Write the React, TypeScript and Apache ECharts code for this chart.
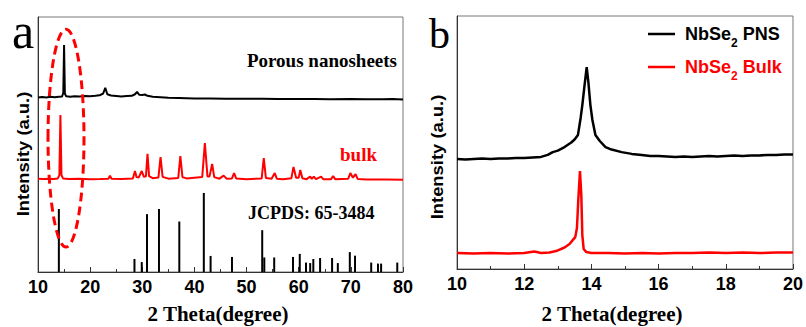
import React, { useEffect, useRef } from 'react';
import * as echarts from 'echarts';

// ---------- Panel a ----------
const xTicksA = [10, 20, 30, 40, 50, 60, 70, 80];

// JCPDS 65-3484 reference sticks
const stickPos = [14.0, 28.5, 29.9, 30.9, 33.2, 37.1, 41.8, 43.1, 47.2, 53.0, 53.4, 55.3, 58.9, 60.2, 61.4, 62.2, 62.8, 64.1, 66.4, 67.5, 69.8, 70.8, 73.9, 75.2, 75.8, 78.9];
const stickHeight = [24.7, 5.1, 3.9, 22.7, 24.7, 19.8, 31.0, 6.3, 5.9, 16.4, 5.7, 5.7, 5.9, 7.1, 3.7, 3.5, 5.1, 5.5, 5.5, 3.5, 7.8, 6.4, 3.7, 3.3, 3.3, 3.7];

// Porous nanosheets pattern (offset)
const porousA: [number, number][] = [
  [10, 68.4], [10.8, 68.6], [11.6, 68.4], [12.4, 68.7], [13.2, 68.5], [14.0, 68.7], [14.6, 68.8], [14.85, 70.2],
  [15.0, 89.0], [15.15, 70.0], [15.4, 68.9], [16.2, 68.7], [17.0, 68.9], [18.0, 68.8], [19.0, 69.0], [20.0, 68.9],
  [21.0, 69.1], [21.8, 69.3], [22.5, 70.0], [22.9, 72.2], [23.3, 69.7], [24.0, 69.2], [25.0, 69.0], [26.0, 68.8],
  [27.0, 69.0], [28.0, 69.1], [28.6, 69.7], [29.0, 70.6], [29.4, 69.5], [30.0, 69.4], [30.5, 69.6], [31.0, 69.1],
  [32.0, 68.7], [33.5, 68.5], [35.0, 68.3], [37.0, 68.2], [40.0, 68.0], [43.0, 68.0], [46.0, 67.9], [50.0, 67.9],
  [53.0, 67.9], [56.0, 67.8], [60.0, 67.8], [63.0, 67.8], [66.0, 67.7], [70.0, 67.8], [73.0, 67.7], [76.0, 67.7],
  [78.0, 67.8], [80.0, 67.6],
];

// Bulk pattern (offset)
const bulkA: [number, number][] = [
  [10, 36.6], [11, 36.5], [12, 36.6], [13, 36.5], [13.8, 36.7], [14.1, 38.0], [14.3, 61.6], [14.5, 38.0], [14.8, 36.7],
  [16, 36.5], [18, 36.6], [20, 36.4], [22, 36.5], [23.5, 36.6], [23.8, 37.8], [24.1, 36.6], [26, 36.5], [28.2, 36.7],
  [28.6, 39.6], [28.9, 37.2], [29.3, 37.0], [29.9, 39.6], [30.3, 37.3], [30.7, 37.5], [31.0, 46.3], [31.3, 37.6],
  [32, 36.8], [33.1, 37.1], [33.5, 45.1], [33.9, 37.3], [35, 36.6], [36.9, 36.9], [37.3, 45.5], [37.7, 37.2],
  [38.5, 36.7], [39.5, 36.9], [41.5, 37.3], [42.0, 50.6], [42.5, 37.5], [42.9, 37.5], [43.4, 42.4], [43.8, 37.2],
  [44.8, 36.6], [45.6, 37.8], [46.2, 36.6], [47.2, 36.7], [47.6, 38.8], [48.0, 36.7], [50, 36.4], [52.9, 36.7],
  [53.3, 44.7], [53.7, 36.9], [54.8, 36.6], [55.4, 38.8], [55.8, 36.6], [57, 36.4], [58.6, 36.8], [59.0, 41.2],
  [59.5, 37.0], [60.0, 37.0], [60.3, 40.0], [60.7, 36.8], [61.5, 36.4], [62.2, 37.4], [62.5, 36.5], [62.9, 37.4],
  [63.3, 36.4], [64.3, 37.4], [64.7, 36.4], [66.2, 36.4], [66.6, 37.6], [67.0, 36.4], [69.5, 36.6], [69.9, 38.8],
  [70.4, 37.0], [70.9, 38.4], [71.3, 36.5], [73, 36.3], [75, 36.3], [77, 36.3], [80, 36.2],
];

// ---------- Panel b ----------
const pnsB: [number, number][] = [
  [10.0, 43.5], [10.25, 43.3], [10.5, 43.5], [10.75, 43.7], [11.0, 43.5], [11.25, 43.7], [11.5, 43.7], [11.75, 43.9],
  [12.0, 43.9], [12.25, 44.1], [12.5, 44.3], [12.7, 45.1], [12.85, 46.2], [13.0, 46.8], [13.2, 48.2], [13.4, 50.0],
  [13.5, 51.2], [13.6, 53.0], [13.68, 59.7], [13.73, 64.8], [13.8, 73.1], [13.86, 79.8], [13.91, 73.9], [13.97, 64.8],
  [14.03, 58.9], [14.12, 53.0], [14.25, 50.6], [14.42, 48.2], [14.6, 47.2], [14.9, 46.2], [15.2, 45.5], [15.5, 45.1],
  [15.75, 44.7], [16.0, 44.7], [16.25, 44.5], [16.5, 44.3], [16.75, 44.5], [17.0, 44.3], [17.25, 44.5], [17.5, 44.7],
  [17.75, 44.5], [18.0, 44.7], [18.25, 44.9], [18.5, 44.7], [18.75, 44.9], [19.0, 44.9], [19.25, 45.1], [19.5, 45.1],
  [19.75, 45.3], [20.0, 45.3],
];

const bulkB: [number, number][] = [
  [10.0, 6.3], [10.5, 6.1], [11.0, 6.3], [11.5, 6.1], [12.0, 6.3], [12.3, 6.9], [12.5, 6.3], [12.75, 6.5],
  [12.95, 7.1], [13.2, 8.5], [13.35, 9.9], [13.45, 11.5], [13.52, 12.6], [13.57, 16.2], [13.61, 27.3], [13.66, 38.7],
  [13.70, 29.2], [13.73, 13.4], [13.77, 7.9], [13.85, 6.7], [14.0, 6.3], [14.5, 6.3], [15.0, 6.1], [15.5, 6.3],
  [16.0, 6.1], [16.5, 6.3], [17.0, 6.3], [17.5, 6.5], [18.0, 6.3], [18.5, 6.5], [19.0, 6.3], [19.5, 6.5], [20.0, 6.5],
];

const SANS = 'Liberation Sans';
const SERIF = 'Liberation Serif';
const RED = '#ff0000';
const AXIS = '#333';

function xAxisCfg(gridIndex: number, min: number, max: number, interval: number) {
  return {
    gridIndex, type: 'value', min, max, interval,
    axisLine: { show: true, lineStyle: { color: AXIS, width: 1 } },
    axisTick: { show: true, inside: true, length: 5, lineStyle: { color: AXIS } },
    minorTick: { show: true, splitNumber: 2, length: 3, lineStyle: { color: AXIS } },
    axisLabel: { color: '#000', fontSize: 18, fontWeight: 'bold', fontFamily: SANS, margin: 6, showMinLabel: true, showMaxLabel: true },
    splitLine: { show: false },
    minorSplitLine: { show: false },
  };
}
function yAxisCfg(gridIndex: number) {
  return {
    gridIndex, type: 'value', min: 0, max: 100,
    axisLine: { show: true, lineStyle: { color: AXIS, width: 1 } },
    axisTick: { show: false }, axisLabel: { show: false }, splitLine: { show: false },
  };
}

export default function App() {
  const ref = useRef<HTMLDivElement>(null);
  useEffect(() => {
    document.body.style.margin = '0';
    const chart = echarts.init(ref.current!, null, { renderer: 'svg' });
    const option: any = {
      animation: false,
      grid: [
        { left: 38, top: 17, width: 365, height: 255, show: true, borderColor: '#777', borderWidth: 1 },
        { left: 457, top: 16, width: 339, height: 253, show: true, borderColor: '#777', borderWidth: 1 },
      ],
      xAxis: [xAxisCfg(0, xTicksA[0], xTicksA[xTicksA.length - 1], 10), xAxisCfg(1, 10, 20, 2)],
      yAxis: [yAxisCfg(0), yAxisCfg(1)],
      series: [
        {
          type: 'custom', name: 'JCPDS', xAxisIndex: 0, yAxisIndex: 0,
          data: stickPos.map((p, i) => [p, stickHeight[i]]),
          renderItem: (params: any, api: any) => {
            const x = api.value(0); const h = api.value(1);
            const p0 = api.coord([x, 0]); const p1 = api.coord([x, h]);
            return { type: 'line', shape: { x1: p0[0], y1: p0[1], x2: p1[0], y2: p1[1] }, style: { stroke: '#000', lineWidth: 2 } };
          },
        },
        { type: 'line', name: 'Porous', xAxisIndex: 0, yAxisIndex: 0, data: porousA, showSymbol: false, symbol: 'none', lineStyle: { color: '#000', width: 2 } },
        { type: 'line', name: 'BulkA', xAxisIndex: 0, yAxisIndex: 0, data: bulkA, showSymbol: false, symbol: 'none', lineStyle: { color: RED, width: 2 } },
        { type: 'line', name: 'NbSe2 PNS', xAxisIndex: 1, yAxisIndex: 1, data: pnsB, showSymbol: false, symbol: 'none', lineStyle: { color: '#000', width: 2.5 } },
        { type: 'line', name: 'NbSe2 Bulk', xAxisIndex: 1, yAxisIndex: 1, data: bulkB, showSymbol: false, symbol: 'none', lineStyle: { color: RED, width: 2.5 } },
      ],
    };
    chart.setOption(option);

    const c = chart.convertToPixel({ gridIndex: 0 }, [15.37, 52.5]) as number[];
    const e = chart.convertToPixel({ gridIndex: 0 }, [15.37 + 3.45, 52.5 + 42.7]) as number[];
    const rx = Math.abs(e[0] - c[0]); const ry = Math.abs(c[1] - e[1]);

    const legendText = (label: string, color: string) => ({
      text: `{m|NbSe}{s|2}{m| ${label}}`,
      rich: {
        m: { fontSize: 18, fontWeight: 'bold', fontFamily: SANS, fill: color, lineHeight: 30 },
        s: { fontSize: 12, fontWeight: 'bold', fontFamily: SANS, fill: color, lineHeight: 12, verticalAlign: 'bottom' },
      },
    });

    const graphic: any[] = [
      { type: 'ellipse', z: 100, shape: { cx: c[0], cy: c[1], rx, ry }, style: { fill: 'none', stroke: RED, lineWidth: 3, lineDash: [9, 5] } },
      { type: 'text', z: 100, x: 12, y: 31, style: { text: 'a', fontSize: 50, fontFamily: SERIF, fill: '#000', verticalAlign: 'middle' } },
      { type: 'text', z: 100, x: 429, y: 34, style: { text: 'b', fontSize: 42, fontFamily: SERIF, fill: '#000', verticalAlign: 'middle' } },
      { type: 'text', z: 100, x: 397, y: 60, style: { text: 'Porous nanosheets', fontSize: 19, fontWeight: 'bold', fontFamily: SERIF, fill: '#000', align: 'right', verticalAlign: 'middle' } },
      { type: 'text', z: 100, x: 377, y: 154, style: { text: 'bulk', fontSize: 19, fontWeight: 'bold', fontFamily: SERIF, fill: RED, align: 'right', verticalAlign: 'middle' } },
      { type: 'text', z: 100, x: 248, y: 213, style: { text: 'JCPDS: 65-3484', fontSize: 18, fontWeight: 'bold', fontFamily: SERIF, fill: '#000', align: 'left', verticalAlign: 'middle' } },
      { type: 'text', z: 100, x: 218, y: 314, style: { text: '2 Theta(degree)', fontSize: 21, fontWeight: 'bold', fontFamily: SERIF, fill: '#000', align: 'center', verticalAlign: 'middle' } },
      { type: 'text', z: 100, x: 612, y: 314, style: { text: '2 Theta(degree)', fontSize: 21, fontWeight: 'bold', fontFamily: SERIF, fill: '#000', align: 'center', verticalAlign: 'middle' } },
      { type: 'text', z: 100, x: 23, y: 154, rotation: Math.PI / 2, scaleX: 1.15, style: { text: 'Intensity (a.u.)', fontSize: 16, fontWeight: 'bold', fontFamily: SANS, fill: '#000', align: 'center', verticalAlign: 'middle' } },
      { type: 'text', z: 100, x: 437, y: 157, rotation: Math.PI / 2, scaleX: 1.15, style: { text: 'Intensity (a.u.)', fontSize: 16, fontWeight: 'bold', fontFamily: SANS, fill: '#000', align: 'center', verticalAlign: 'middle' } },
      { type: 'line', z: 100, shape: { x1: 648, y1: 34, x2: 675, y2: 34 }, style: { stroke: '#000', lineWidth: 2.5 } },
      { type: 'line', z: 100, shape: { x1: 648, y1: 67, x2: 675, y2: 67 }, style: { stroke: RED, lineWidth: 2.5 } },
      { type: 'text', z: 100, x: 685, y: 34, style: { ...legendText('PNS', '#000'), verticalAlign: 'middle' } },
      { type: 'text', z: 100, x: 685, y: 67, style: { ...legendText('Bulk', RED), verticalAlign: 'middle' } },
    ];
    chart.setOption({ graphic });
    return () => chart.dispose();
  }, []);
  return <div ref={ref} style={{ width: 806, height: 327 }} />;
}
